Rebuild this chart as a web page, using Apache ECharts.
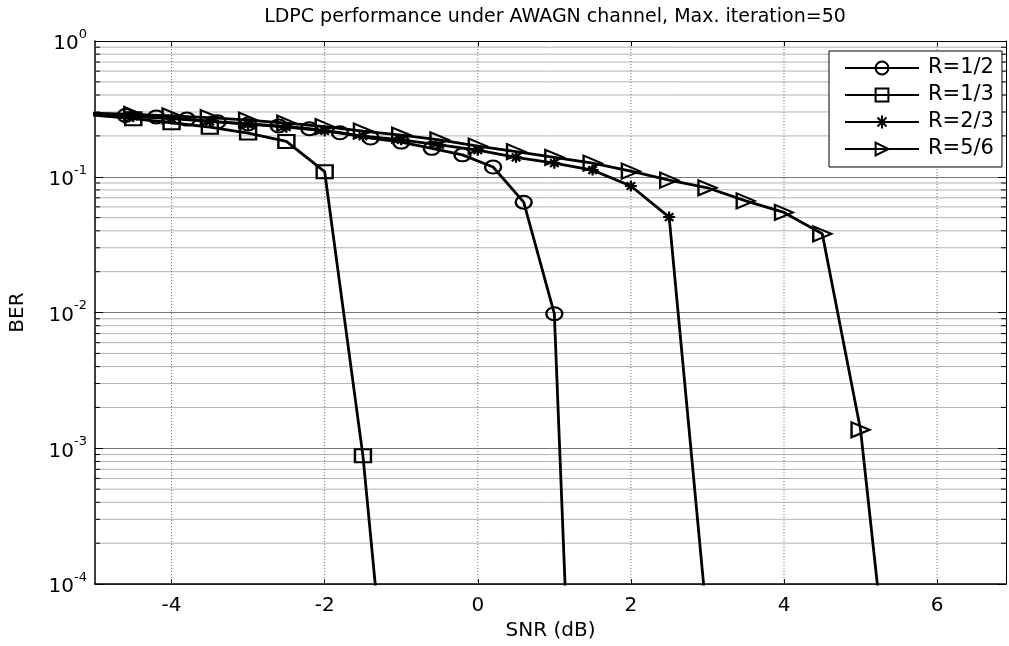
<!DOCTYPE html>
<html>
<head>
<meta charset="utf-8">
<script src="https://cdn.jsdelivr.net/npm/echarts@6/dist/echarts.min.js"></script>
<style>html,body{margin:0;padding:0;background:#fff}#c{width:1009px;height:646px}</style>
</head>
<body>
<div id="c"></div>
<script>
// ---- data ----
const snrR12 = [-5.4, -4.6, -4.2, -3.8, -3.4, -3.0, -2.6, -2.2, -1.8, -1.4, -1.0, -0.6, -0.2, 0.2, 0.6, 1.0, 1.4];
const berR12 = [0.298, 0.283, 0.276, 0.266, 0.254, 0.245, 0.237, 0.226, 0.211, 0.193, 0.180, 0.162, 0.145, 0.118, 0.065, 0.0098, 2e-8];

const snrR13 = [-5.5, -4.5, -4.0, -3.5, -3.0, -2.5, -2.0, -1.5, -1.0];
const berR13 = [0.30, 0.268, 0.25, 0.232, 0.21, 0.182, 0.109, 0.00088, 1e-6];

const snrR23 = [-5.5, -4.5, -4.0, -3.5, -3.0, -2.5, -2.0, -1.5, -1.0, -0.5, 0.0, 0.5, 1.0, 1.5, 2.0, 2.5, 3.0];
const berR23 = [0.30, 0.278, 0.268, 0.256, 0.244, 0.232, 0.218, 0.199, 0.187, 0.172, 0.157, 0.139, 0.126, 0.112, 0.0855, 0.0505, 5e-5];

const snrR56 = [-5.5, -4.5, -4.0, -3.5, -3.0, -2.5, -2.0, -1.5, -1.0, -0.5, 0.0, 0.5, 1.0, 1.5, 2.0, 2.5, 3.0, 3.5, 4.0, 4.5, 5.0, 5.5];
const berR56 = [0.30, 0.288, 0.281, 0.273, 0.261, 0.248, 0.234, 0.217, 0.203, 0.187, 0.168, 0.153, 0.139, 0.126, 0.110, 0.0944, 0.083, 0.0664, 0.0546, 0.038, 0.00137, 3.5e-6];

const seriesNames = ['R=1/2', 'R=1/3', 'R=2/3', 'R=5/6'];
const xTicks = [-4, -2, 0, 2, 4, 6];
const xMin = -5, xMax = 6.9;
const yMin = 1e-4, yMax = 1;
const yMinor = [2e-4,3e-4,4e-4,5e-4,6e-4,7e-4,8e-4,9e-4,
                2e-3,3e-3,4e-3,5e-3,6e-3,7e-3,8e-3,9e-3,
                2e-2,3e-2,4e-2,5e-2,6e-2,7e-2,8e-2,9e-2,
                2e-1,3e-1,4e-1,5e-1,6e-1,7e-1,8e-1,9e-1];

const FONT = 'DejaVu Sans';
const pairs = (xs, ys) => xs.map((x, i) => [x, ys[i]]);
const star = 'path://M0,-10L0,10M-10,0L10,0M-7,-7L7,7M-7,7L7,-7';

function curve(name, xs, ys, symbol, size, rotate) {
  return {
    name, type: 'line', data: pairs(xs, ys), symbol, symbolSize: size, symbolRotate: rotate || 0,
    clip: true, z: 5, silent: true, animation: false,
    lineStyle: { color: '#000', width: 2.8 },
    itemStyle: { color: 'rgba(0,0,0,0)', borderColor: '#000', borderWidth: 2.2 },
    emphasis: { disabled: true }
  };
}

const chart = echarts.init(document.getElementById('c'), null, { renderer: 'canvas' });
chart.setOption({
  animation: false,
  backgroundColor: '#fff',
  title: {
    text: 'LDPC performance under AWAGN channel, Max. iteration=50',
    left: 550, top: 3, textAlign: 'center',
    textStyle: { fontFamily: FONT, fontSize: 19, fontWeight: 'normal', color: '#000' }
  },
  grid: { left: 94, right: 3, top: 41, bottom: 55, containLabel: false },
  legend: {
    data: seriesNames, orient: 'vertical', left: 829, top: 51,
    padding: [6, 8, 7, 15], itemWidth: 74, itemHeight: 16, itemGap: 5,
    borderColor: '#000', borderWidth: 1, backgroundColor: '#fff',
    textStyle: { fontFamily: FONT, fontSize: 21, lineHeight: 22, color: '#000', padding: [0, 0, 0, 4] },
    selectedMode: false
  },
  xAxis: [{
    type: 'value', min: xMin, max: xMax, position: 'bottom',
    name: 'SNR (dB)', nameLocation: 'middle', nameGap: 35,
    nameTextStyle: { fontFamily: FONT, fontSize: 20, color: '#000' },
    axisLine: { show: true, onZero: false, lineStyle: { color: '#000', width: 1.5 } },
    axisTick: { show: true, inside: true, length: 5, customValues: xTicks, lineStyle: { color: '#000' } },
    axisLabel: { customValues: xTicks, fontFamily: FONT, fontSize: 20, color: '#000', margin: 12 },
    splitLine: { show: false }
  }, {
    type: 'value', min: xMin, max: xMax, position: 'top',
    axisLine: { show: true, onZero: false, lineStyle: { color: '#000', width: 1 } },
    axisTick: { show: true, inside: true, length: 5, customValues: xTicks, lineStyle: { color: '#000' } },
    axisLabel: { show: false }, splitLine: { show: false }
  }],
  yAxis: [{
    type: 'log', logBase: 10, min: yMin, max: yMax, position: 'left',
    name: 'BER', nameLocation: 'middle', nameGap: 67,
    nameTextStyle: { fontFamily: FONT, fontSize: 20, color: '#000' },
    axisLine: { show: true, onZero: false, lineStyle: { color: '#000', width: 1.5 } },
    axisTick: { show: true, inside: true, length: 8, lineStyle: { color: '#000' } },
    axisLabel: {
      margin: 8,
      formatter: v => '{b|10}{s|' + Math.round(Math.log10(v)) + '}',
      rich: {
        b: { fontFamily: FONT, fontSize: 20, color: '#000', verticalAlign: 'bottom', lineHeight: 26 },
        s: { fontFamily: FONT, fontSize: 13, color: '#000', verticalAlign: 'top', lineHeight: 26 }
      }
    },
    splitLine: { show: true, lineStyle: { color: '#7a7a7a', width: 1 } }
  }, {
    type: 'log', logBase: 10, min: yMin, max: yMax, position: 'right',
    axisLine: { show: true, onZero: false, lineStyle: { color: '#000', width: 1 } },
    axisTick: { show: true, inside: true, length: 8, lineStyle: { color: '#000' } },
    axisLabel: { show: false }, splitLine: { show: false }
  }],
  series: [
    {
      type: 'custom', name: 'minorGrid', silent: true, z: 1, clip: false,
      data: yMinor.map(v => [xMin, v]),
      renderItem: (params, api) => {
        const v = api.value(1);
        const l = api.coord([xMin, v]);
        const r = api.coord([xMax, v]);
        return { type: 'group', children: [
          { type: 'line', shape: { x1: l[0], y1: l[1], x2: r[0], y2: r[1] }, style: { stroke: '#b4b4b4', lineWidth: 1 } },
          { type: 'line', shape: { x1: l[0], y1: l[1], x2: l[0] + 5, y2: l[1] }, style: { stroke: '#000', lineWidth: 1 } },
          { type: 'line', shape: { x1: r[0] - 5, y1: r[1], x2: r[0], y2: r[1] }, style: { stroke: '#000', lineWidth: 1 } }
        ] };
      }
    },
    {
      type: 'custom', name: 'xGrid', silent: true, z: 1, clip: false,
      data: xTicks.map(v => [v, yMax]),
      renderItem: (params, api) => {
        const v = api.value(0);
        const b = api.coord([v, yMin]);
        const t = api.coord([v, yMax]);
        return { type: 'line', shape: { x1: b[0], y1: b[1], x2: t[0], y2: t[1] },
          style: { stroke: '#6a6a6a', lineWidth: 1, lineDash: [1, 2] } };
      }
    },
    curve('R=1/2', snrR12, berR12, 'circle', [16, 13]),
    curve('R=1/3', snrR13, berR13, 'rect', [16, 13]),
    curve('R=2/3', snrR23, berR23, star, [12, 11]),
    curve('R=5/6', snrR56, berR56, 'triangle', [15, 18], -90)
  ]
});
</script>
</body>
</html>
